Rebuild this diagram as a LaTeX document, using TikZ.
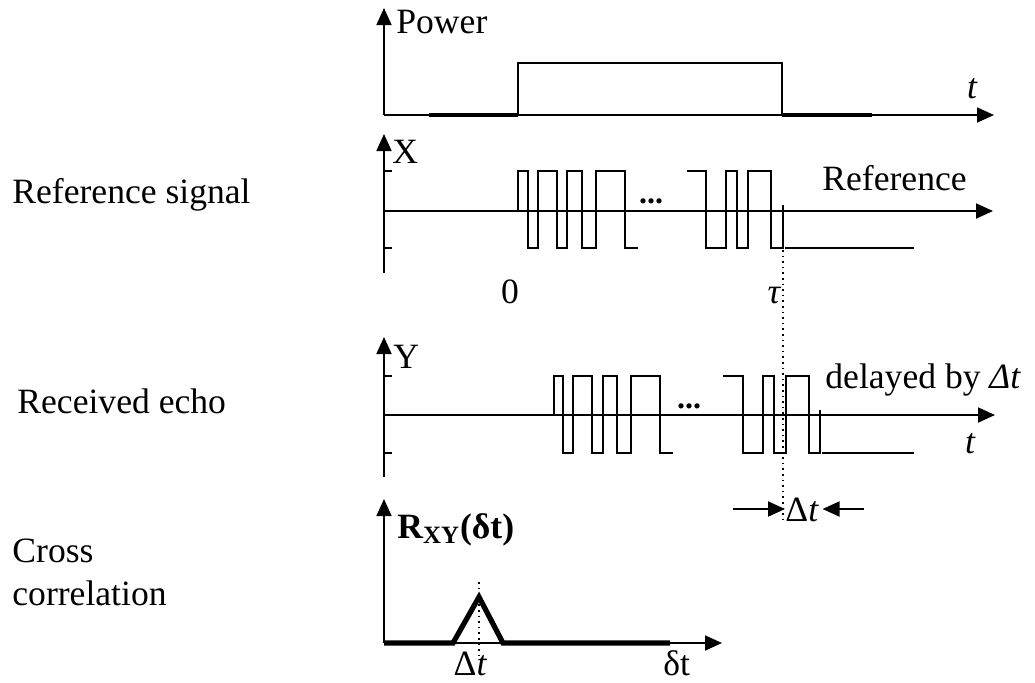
\documentclass[tikz,border=0pt]{standalone}
\usepackage{fontspec}
\setmainfont{Liberation Serif}
\usetikzlibrary{arrows.meta}
\begin{document}
\begin{tikzpicture}[x=0.5pt,y=-0.5pt,
  txt/.style={inner sep=0pt,font=\fontsize{17.8}{21}\selectfont},
  axis/.style={line width=0.9pt,-{Triangle[length=8.5pt,width=7.5pt]}},
  sig/.style={line width=1pt,line join=miter},
  pwr/.style={line width=1.1pt,line join=miter},
  pwrbase/.style={line width=1.6pt},
  thick line/.style={line width=2.6pt,line join=miter},
  tick/.style={line width=0.8pt},
  dots/.style={inner sep=0pt,font=\fontsize{16}{18}\selectfont\bfseries}]
\useasboundingbox (0,0) rectangle (1035,682);

% ---------- Power ----------
\coordinate (p0) at (384,115);
\coordinate (pT) at (384,8);
\coordinate (pR) at (994,115);
\draw[axis] (p0) -- (pT);
\draw[axis] (p0) -- (pR);
\draw[pwrbase] (429,115) -- (518,115);
\draw[pwrbase] (782,115) -- (872,115);
\draw[pwr] (518,115) -- (518,63) -- (782,63) -- (782,115);
\node[txt,anchor=base west] (power) at (396,33) {Power};
\node[txt,anchor=base] (tp) at (972,98) {\itshape t};

% ---------- Reference signal X ----------
\coordinate (x0) at (384,273);
\coordinate (xT) at (384,134);
\coordinate (xL) at (384,211);
\coordinate (xR) at (993,211);
\draw[axis] (x0) -- (xT);
\draw[axis] (xL) -- (xR);
\draw[tick] (384,171) -- (392,171);
\draw[tick] (384,248) -- (392,248);
\draw[sig] (518,211) -- (518,171) -- (528,171) -- (528,248) -- (538,248) -- (538,171)
  -- (557,171) -- (557,248) -- (567,248) -- (567,171) -- (582,171) -- (582,248)
  -- (596,248) -- (596,171) -- (625,171) -- (625,248) -- (638,248);
\draw[sig] (687,171) -- (706,171) -- (706,248) -- (726,248) -- (726,171) -- (737,171)
  -- (737,248) -- (748,248) -- (748,171) -- (771,171) -- (771,248) -- (783,248) -- (783,205);
\draw[sig] (785,248) -- (914,248);
\node[dots] (xdots) at (651,201) {...};
\node[txt,anchor=base west] (xlab) at (392,163) {X};
\node[txt,anchor=base west] (reflab) at (822,190) {Reference};
\node[txt,anchor=base west] (refsig) at (12,203) {Reference signal};
\node[txt,anchor=base] (zero) at (510,303) {0};
\node[txt,anchor=base] (tau) at (774,303) {\itshape τ};

% ---------- Received echo Y ----------
\coordinate (y0) at (384,477);
\coordinate (yT) at (384,337);
\coordinate (yL) at (384,415);
\coordinate (yR) at (995,415);
\draw[axis] (y0) -- (yT);
\draw[axis] (yL) -- (yR);
\draw[tick] (384,376) -- (392,376);
\draw[tick] (384,453) -- (392,453);
\draw[sig] (554,415) -- (554,376) -- (563,376) -- (563,453) -- (573,453) -- (573,376)
  -- (592,376) -- (592,453) -- (603,453) -- (603,376) -- (617,376) -- (617,453)
  -- (631,453) -- (631,376) -- (660,376) -- (660,453) -- (673,453);
\draw[sig] (723,376) -- (743,376) -- (743,453) -- (763,453) -- (763,376) -- (774,376)
  -- (774,453) -- (786,453) -- (786,376) -- (809,376) -- (809,453) -- (820,453) -- (820,410);
\draw[sig] (822,453) -- (914,453);
\node[dots] (ydots) at (689,406) {...};
\node[txt,anchor=base west] (ylab) at (393,368) {Y};
\node[txt,anchor=base west] (delay) at (825,388) {delayed by \itshape Δt};
\node[txt,anchor=base west] (recv) at (17,413) {Received echo};
\node[txt,anchor=base] (ty) at (970,453) {\itshape t};

% ---------- dotted marker & Delta t ----------
\coordinate (dtop) at (783,250);
\coordinate (dbot) at (783,524);
\draw[dotted,line width=0.8pt] (dtop) -- (dbot);
\node[txt,anchor=base west] (dtlab) at (785,521) {Δ\itshape t};
\coordinate (al) at (733,509);
\coordinate (ar) at (864,509);
\draw[axis,line width=1pt] (al) -- (dtlab.west |- al);
\draw[axis,line width=1pt] (ar) -- ([xshift=2pt]dtlab.east |- ar);

% ---------- Cross correlation ----------
\coordinate (r0) at (384,643);
\coordinate (rT) at (384,499);
\coordinate (rR) at (722,643);
\draw[axis] (r0) -- (rT);
\draw[axis] (r0) -- (rR);
\draw[thick line] (384,643) -- (453,643) -- (479,597) -- (503,643) -- (670,643);
\draw[dotted,line width=0.8pt] (479,582) -- (479,657);
\node[txt,anchor=base west] (rxy) at (397,538) {\bfseries R\textsubscript{XY}(δt)};
\node[txt,anchor=base] (dtpk) at (470,675) {Δ\itshape t};
\node[txt,anchor=base west] (dlt) at (663,675) {δt};
\node[txt,anchor=base west] (cross) at (12,562) {Cross};
\node[txt,anchor=base west] (corr) at (12,605) {correlation};
\end{tikzpicture}
\end{document}
